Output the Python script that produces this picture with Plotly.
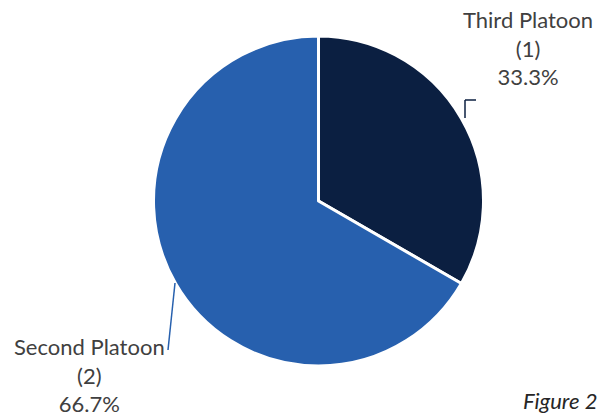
import plotly.graph_objects as go

labels = ["Third Platoon", "Second Platoon"]
values = [1, 2]
colors = ["#0B1F41", "#2760AE"]

W, H = 597, 417
total = sum(values)
pct = [v / total * 100 for v in values]
texts = [f"{l}<br>({v})<br>{p:.1f}%" for l, v, p in zip(labels, values, pct)]

fig = go.Figure(go.Pie(
    labels=labels, values=values, sort=False, direction="clockwise", rotation=0,
    marker=dict(colors=colors, line=dict(color="white", width=3)),
    textinfo="none", hoverinfo="skip", showlegend=False,
    domain=dict(x=[(318.5 - 165) / W, (318.5 + 165) / W], y=[(216 - 165) / H, (216 + 165) / H]),
))

def px(x, y):
    return x / W, 1 - y / H

font = dict(family="Lato, 'Open Sans', sans-serif", size=22, color="#404040")
# label positions (pixels)
label_pos = [(528, 48), (89, 375)]
for t, (x, y) in zip(texts, label_pos):
    ax, ay = px(x, y)
    fig.add_annotation(x=ax, y=ay, xref="paper", yref="paper", text=t, showarrow=False,
                       xanchor="center", yanchor="middle", align="center", font=font)

# leader lines
leaders = [
    ([(465, 118), (465, 100), (476, 100)], colors[0]),
    ([(175, 283), (168, 350)], colors[1]),
]
for pts, c in leaders:
    for (x0, y0), (x1, y1) in zip(pts[:-1], pts[1:]):
        a0, b0 = px(x0, y0)
        a1, b1 = px(x1, y1)
        fig.add_shape(type="line", xref="paper", yref="paper", x0=a0, y0=b0, x1=a1, y1=b1,
                      line=dict(color=c, width=1.5))

fx, fy = px(521, 400)
fig.add_annotation(x=fx, y=fy, xref="paper", yref="paper", text="<i>Figure 2</i>", showarrow=False,
                   xanchor="left", yanchor="middle", font=dict(family="Lato, sans-serif", size=22, color="#262626"))

fig.update_layout(width=W, height=H, margin=dict(l=0, r=0, t=0, b=0),
                  paper_bgcolor="white", plot_bgcolor="white")
fig.write_html("out.html")
